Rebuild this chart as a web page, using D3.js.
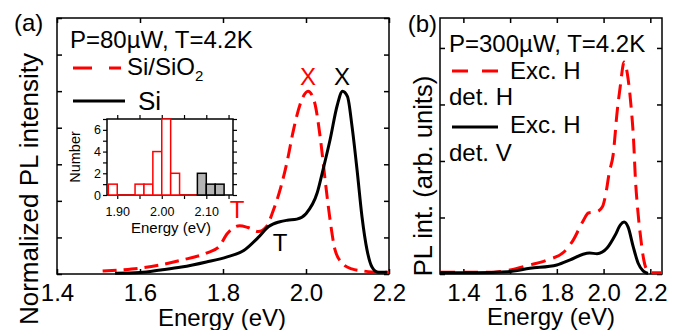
<!DOCTYPE html>
<html>
<head>
<meta charset="utf-8">
<script src="https://cdnjs.cloudflare.com/ajax/libs/d3/7.8.5/d3.min.js"></script>
<style>
body{margin:0;background:#fff;}
svg{font-family:"Liberation Sans",Arial,Helvetica,sans-serif;}
.axis path{display:none;}
.axis line{stroke:#000;stroke-width:1.5;}
.axis text{font-size:24px;fill:#000;font-family:"Liberation Sans",Arial,sans-serif;}
.inset .axis line{stroke-width:1.2;}
.inset .axis text{font-size:12.5px;}
</style>
</head>
<body>
<script>
// panel (a): normalized spectra
var energySiO2 = [1.51,1.55,1.60,1.65,1.70,1.76,1.79,1.81,1.84,1.86,1.885,1.905,1.92,1.94,1.955,1.97,1.99,2.005,2.02,2.035,2.046,2.058,2.07,2.087,2.11,2.14,2.17,2.20];
var intensSiO2 = [0.08,0.11,0.16,0.25,0.38,0.57,0.74,1.1,1.32,1.27,1.16,1.3,1.7,2.4,3.1,3.95,4.77,5.0,4.72,3.67,2.58,1.48,0.66,0.3,0.14,0.08,0.05,0.05];
var energySi = [1.54,1.60,1.65,1.70,1.76,1.81,1.85,1.885,1.91,1.937,1.955,1.978,2.00,2.027,2.041,2.058,2.075,2.088,2.10,2.111,2.123,2.135,2.147,2.159,2.173,2.195];
var intensSi = [0.02,0.04,0.11,0.19,0.33,0.47,0.64,1.0,1.3,1.43,1.47,1.5,1.65,2.22,2.85,3.67,4.6,5.0,4.85,4.03,2.85,1.56,0.66,0.19,0.05,0.05];

// panel (b): polarization resolved
var energyH = [1.30,1.40,1.50,1.60,1.685,1.76,1.83,1.87,1.91,1.935,1.97,1.995,2.01,2.024,2.041,2.058,2.071,2.088,2.105,2.118,2.128,2.136,2.147,2.16,2.172,2.19,2.21,2.25];
var intensH = [0.03,0.03,0.03,0.07,0.16,0.25,0.39,0.6,0.92,1.08,1.1,1.19,1.43,1.79,2.11,2.87,3.31,3.75,3.45,2.95,2.4,1.7,1.1,0.6,0.25,0.05,0.02,0.02];
var energyV = [1.30,1.45,1.59,1.685,1.80,1.857,1.912,1.94,1.972,2.015,2.05,2.072,2.088,2.105,2.127,2.148,2.17,2.19];
var intensV = [0.02,0.02,0.04,0.1,0.16,0.25,0.35,0.37,0.36,0.46,0.69,0.87,0.92,0.83,0.48,0.19,0.05,0.01];

// inset histogram
var redBinStart = [1.88,1.90,1.92,1.94,1.96,1.98,2.00,2.02,2.04,2.06];
var redCount = [1,0,0,1,1,4,7,2,0,0];
var grayBinStart = [2.08,2.10,2.12];
var grayCount = [2,1,1];
var binWidth = 0.02;

var xTicks = [1.4,1.6,1.8,2.0,2.2];
var yTicksA = [0,1,2,3,4,5,6,7];
var yTicksB = [0,1,2,3,4];
var insetXTicks = [1.90,1.95,2.00,2.05,2.10,2.15];
var insetXLabels = [1.90,2.00,2.10];
var insetYTicks = [0,1,2,3,4,5,6,7];
var insetYLabels = [0,2,4,6];

var svg = d3.select('body').append('svg')
    .attr('width', 680)
    .attr('height', 330);

function zip(xs, ys){ return xs.map(function(d,i){return {e:d, v:ys[i]};}); }

function frame(x, y, yt){
    var g = svg.append('g');
    var x0 = x.range()[0], x1 = x.range()[1], y0 = y.range()[0], y1 = y.range()[1];
    g.append('g').attr('class','axis').attr('transform','translate(0,'+y0+')')
        .call(d3.axisBottom(x).tickValues(xTicks).tickSizeInner(-5).tickSizeOuter(0).tickPadding(10).tickFormat(d3.format('.1f')));
    g.append('g').attr('class','axis').attr('transform','translate(0,'+y1+')')
        .call(d3.axisTop(x).tickValues(xTicks).tickSizeInner(-5).tickSizeOuter(0).tickFormat(''));
    g.append('g').attr('class','axis').attr('transform','translate('+x0+',0)')
        .call(d3.axisLeft(y).tickValues(yt).tickSizeInner(-5).tickSizeOuter(0).tickFormat(''));
    g.append('g').attr('class','axis').attr('transform','translate('+x1+',0)')
        .call(d3.axisRight(y).tickValues(yt).tickSizeInner(-5).tickSizeOuter(0).tickFormat(''));
    g.append('rect').attr('x',x0).attr('y',y1).attr('width',x1-x0).attr('height',y0-y1)
        .attr('fill','none').attr('stroke','#000').attr('stroke-width',1.5);
}

function curve(x, y, data, color, dash){
    var line = d3.line().curve(d3.curveMonotoneX)
        .x(function(d){return x(d.e)})
        .y(function(d){return y(d.v)});
    svg.append('path').attr('d', line(data))
        .attr('fill','none').attr('stroke',color).attr('stroke-width',3)
        .attr('stroke-dasharray', dash || null);
}

function label(x, y, txt, size, color, anchor){
    return svg.append('text').attr('x',x).attr('y',y).text(txt)
        .attr('font-size',size).attr('fill',color || '#000')
        .attr('text-anchor',anchor || 'start');
}

// ---------- panel (a)
var xA = d3.scaleLinear().domain([1.4,2.2]).range([57,389]);
var yA = d3.scaleLinear().domain([0,7]).range([274,18]);
frame(xA, yA, yTicksA);
curve(xA, yA, zip(energySiO2, intensSiO2), '#ff0000', '14,7');
curve(xA, yA, zip(energySi, intensSi), '#000');

label(14, 31, '(a)', 24);
svg.append('text').attr('transform','translate(38,189) rotate(-90)')
    .attr('text-anchor','middle').attr('font-size',26).text('Normalized PL intensity');
label(222, 326, 'Energy (eV)', 24, '#000', 'middle');
label(70, 48, 'P=80\u00b5W, T=4.2K', 24);
svg.append('line').attr('x1',73).attr('x2',121).attr('y1',68).attr('y2',68)
    .attr('stroke','#ff0000').attr('stroke-width',3).attr('stroke-dasharray','19,17');
var t = label(127, 75, 'Si/SiO', 24);
t.append('tspan').attr('font-size',15).attr('dy',6).text('2');
svg.append('line').attr('x1',73).attr('x2',125).attr('y1',101).attr('y2',101)
    .attr('stroke','#000').attr('stroke-width',3);
label(138, 110, 'Si', 26);
label(308, 85, 'X', 24, '#ff0000', 'middle');
label(342, 85, 'X', 24, '#000', 'middle');
label(237, 218, 'T', 24, '#ff0000', 'middle');
label(280, 251, 'T', 24, '#000', 'middle');

// ---------- inset
var xI = d3.scaleLinear().domain([1.877,2.160]).range([107,233]);
var yI = d3.scaleLinear().domain([0,7]).range([195,119]);
var gi = svg.append('g').attr('class','inset');
gi.append('rect').attr('x',107).attr('y',119).attr('width',126).attr('height',76)
    .attr('fill','#fff').attr('stroke','#000').attr('stroke-width',1.5);
gi.append('g').attr('class','axis').attr('transform','translate(0,195)')
    .call(d3.axisBottom(xI).tickValues(insetXTicks).tickSizeInner(4).tickSizeOuter(0).tickPadding(8)
        .tickFormat(function(d){return insetXLabels.some(function(l){return Math.abs(l-d)<1e-6}) ? d3.format('.2f')(d) : '';}));
gi.append('g').attr('class','axis').attr('transform','translate(0,119)')
    .call(d3.axisTop(xI).tickValues(insetXTicks).tickSizeInner(4).tickSizeOuter(0).tickFormat(''));
gi.append('g').attr('class','axis').attr('transform','translate(107,0)')
    .call(d3.axisLeft(yI).tickValues(insetYTicks).tickSizeInner(4).tickSizeOuter(0).tickPadding(2)
        .tickFormat(function(d){return insetYLabels.indexOf(d) >= 0 ? d : '';}));
gi.append('g').attr('class','axis').attr('transform','translate(233,0)')
    .call(d3.axisRight(yI).tickValues(insetYTicks).tickSizeInner(4).tickSizeOuter(0).tickFormat(''));

var redBins = zip(redBinStart, redCount);
gi.selectAll('.zero').data(redBins.filter(function(d){return d.v===0})).enter().append('line')
    .attr('x1',function(d){return xI(d.e)}).attr('x2',function(d){return xI(d.e+binWidth)})
    .attr('y1',yI(0)).attr('y2',yI(0)).attr('stroke','#ff0000').attr('stroke-width',1.5);
gi.selectAll('.redbar').data(redBins.filter(function(d){return d.v>0})).enter().append('rect')
    .attr('x',function(d){return xI(d.e)}).attr('width',function(d){return xI(d.e+binWidth)-xI(d.e)})
    .attr('y',function(d){return yI(d.v)}).attr('height',function(d){return yI(0)-yI(d.v)})
    .attr('fill','#fff').attr('stroke','#ff0000').attr('stroke-width',1.5);
gi.selectAll('.graybar').data(zip(grayBinStart, grayCount)).enter().append('rect')
    .attr('x',function(d){return xI(d.e)}).attr('width',function(d){return xI(d.e+binWidth)-xI(d.e)})
    .attr('y',function(d){return yI(d.v)}).attr('height',function(d){return yI(0)-yI(d.v)})
    .attr('fill','#b4b4b4').attr('stroke','#000').attr('stroke-width',1.5);
gi.append('text').attr('transform','translate(80,157) rotate(-90)')
    .attr('text-anchor','middle').attr('font-size',14.5).text('Number');
gi.append('text').attr('x',171).attr('y',233).attr('text-anchor','middle')
    .attr('font-size',15).text('Energy (eV)');

// ---------- panel (b)
var xB = d3.scaleLinear().domain([1.3,2.25]).range([440,662]);
var yB = d3.scaleLinear().domain([0,4.53]).range([274,18]);
frame(xB, yB, yTicksB);
curve(xB, yB, zip(energyH, intensH), '#ff0000', '15,8');
curve(xB, yB, zip(energyV, intensV), '#000');

label(437, 32, '(b)', 24, '#000', 'end');
svg.append('text').attr('transform','translate(432,176) rotate(-90)')
    .attr('text-anchor','middle').attr('font-size',25.5).text('PL int. (arb. units)');
label(551, 325, 'Energy (eV)', 24, '#000', 'middle');
label(449, 52, 'P=300\u00b5W, T=4.2K', 24);
svg.append('line').attr('x1',452).attr('x2',498).attr('y1',71).attr('y2',71)
    .attr('stroke','#ff0000').attr('stroke-width',3).attr('stroke-dasharray','16,14');
label(510, 79, 'Exc. H', 24);
label(449, 105, 'det. H', 24);
svg.append('line').attr('x1',452).attr('x2',498).attr('y1',127).attr('y2',127)
    .attr('stroke','#000').attr('stroke-width',3);
label(510, 133, 'Exc. H', 24);
label(449, 161, 'det. V', 24);
</script>
</body>
</html>
